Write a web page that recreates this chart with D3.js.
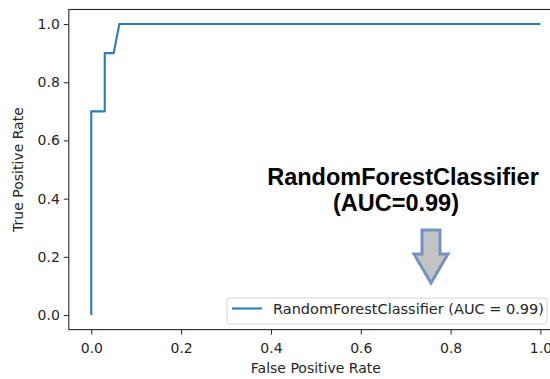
<!DOCTYPE html>
<html>
<head>
<meta charset="utf-8">
<script src="https://cdn.jsdelivr.net/npm/d3@7/dist/d3.min.js"></script>
<style>
  html, body { margin: 0; padding: 0; background: #fff; }
  svg { display: block; }
  .tick text { font-family: "DejaVu Sans", sans-serif; font-size: 14px; fill: #262626; }
  .tick line { stroke: #262626; }
  .domain { display: none; }
</style>
</head>
<body>
<svg id="chart" width="550" height="379"></svg>
<script>
// ROC curve points (false positive rate / true positive rate)
const fpr = [0, 0, 0.03, 0.03, 0.05, 0.0625, 1.0];
const tpr = [0, 0.7, 0.7, 0.9, 0.9, 1.0, 1.0];
const tickValues = [0, 0.2, 0.4, 0.6, 0.8, 1.0];
const seriesLabel = "RandomForestClassifier (AUC = 0.99)";
const noteLines = ["RandomForestClassifier", "(AUC=0.99)"];
const xTitle = "False Positive Rate";
const yTitle = "True Positive Rate";

const svg = d3.select("#chart");
const x = d3.scaleLinear().domain([-0.05, 1.05]).range([68.8, 562.9]);
const y = d3.scaleLinear().domain([-0.05, 1.05]).range([329.6, 9.5]);

// axes frame
svg.append("rect")
  .attr("x", x(-0.05)).attr("y", y(1.05))
  .attr("width", x(1.05) - x(-0.05)).attr("height", y(-0.05) - y(1.05))
  .attr("fill", "none").attr("stroke", "#262626").attr("stroke-width", 1.1);

svg.append("g").attr("transform", `translate(0,${y(-0.05)})`)
  .call(d3.axisBottom(x).tickValues(tickValues).tickFormat(d3.format(".1f")).tickSize(5).tickPadding(8));
svg.append("g").attr("transform", `translate(${x(-0.05)},0)`)
  .call(d3.axisLeft(y).tickValues(tickValues).tickFormat(d3.format(".1f")).tickSize(5).tickPadding(4));

// ROC line
const pts = fpr.map((f, i) => [f, tpr[i]]);
svg.append("path")
  .datum(pts)
  .attr("fill", "none")
  .attr("stroke", "#2b7bba")
  .attr("stroke-width", 2.1)
  .attr("stroke-linejoin", "round")
  .attr("d", d3.line().x(d => x(d[0])).y(d => y(d[1])));

// axis titles
const labelStyle = sel => sel
  .style("font-family", "DejaVu Sans, sans-serif").style("font-size", "14px").attr("fill", "#262626");
svg.append("text")
  .attr("x", (x(-0.05) + x(1.05)) / 2).attr("y", 373)
  .attr("text-anchor", "middle")
  .call(labelStyle)
  .text(xTitle);
svg.append("text")
  .attr("transform", `translate(23,${(y(-0.05) + y(1.05)) / 2}) rotate(-90)`)
  .attr("text-anchor", "middle")
  .call(labelStyle)
  .text(yTitle);

// legend
const lg = svg.append("g");
lg.append("rect")
  .attr("x", 227).attr("y", 298).attr("width", 320).attr("height", 26)
  .attr("rx", 3)
  .attr("fill", "#fff").attr("fill-opacity", 0.8)
  .attr("stroke", "#d6d6d6");
lg.append("line")
  .attr("x1", 232).attr("x2", 262).attr("y1", 308.5).attr("y2", 308.5)
  .attr("stroke", "#2b7bba").attr("stroke-width", 2.1);
lg.append("text")
  .attr("x", 273).attr("y", 313.5)
  .call(labelStyle)
  .style("font-size", "14.5px")
  .text(seriesLabel);

// annotation
const note = svg.append("g")
  .style("font-family", "Liberation Sans, Arial, sans-serif")
  .style("font-weight", "bold").style("font-size", "23.5px");
note.append("text").attr("x", 403).attr("y", 185).attr("text-anchor", "middle").text(noteLines[0]);
note.append("text").attr("x", 396).attr("y", 211).attr("text-anchor", "middle").text(noteLines[1]);

// down arrow
const ax = 431;
const arrow = [[ax - 9, 230], [ax + 9, 230], [ax + 9, 254], [ax + 17, 254], [ax, 283], [ax - 17, 254], [ax - 9, 254]];
svg.append("path")
  .attr("d", d3.line()(arrow) + "Z")
  .attr("fill", "#c3c3c3")
  .attr("stroke", "#7393c3")
  .attr("stroke-width", 3)
  .attr("stroke-linejoin", "miter");
</script>
</body>
</html>
